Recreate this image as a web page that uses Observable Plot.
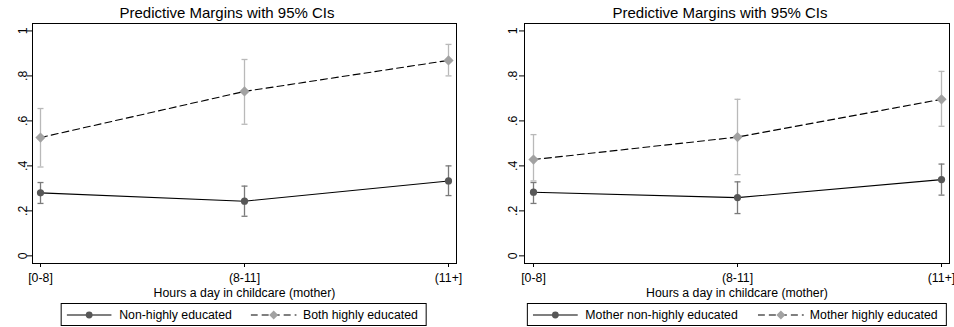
<!DOCTYPE html>
<html>
<head>
<meta charset="utf-8">
<script src="https://cdn.jsdelivr.net/npm/d3@7"></script>
<script src="https://cdn.jsdelivr.net/npm/@observablehq/plot@0.6"></script>
<style>
  body { margin: 0; background: #fff; font-family: "Liberation Sans", Arial, sans-serif; }
  #wrap { position: relative; width: 954px; height: 327px; overflow: hidden; }
  .panel { position: absolute; top: 0; width: 477px; height: 327px; }
  .title { position: absolute; top: 5px; width: 300px; text-align: center; font-size: 15px; line-height: 15px; color: #000; white-space: nowrap; }
  .plot { position: absolute; top: 0; left: 0; }
  .legend { position: absolute; top: 303px; height: 21px; border: 1px solid #000; background: #fff;
            display: flex; align-items: center; padding: 0 8px 0 5px; transform: translateX(-50%);
            font-size: 12.3px; white-space: nowrap; }
  .legend svg { display: block; }
</style>
</head>
<body>
<div id="wrap"></div>
<script>
// ---- data ----
const categories = ["[0-8]", "(8-11]", "(11+]"];
const yTickValues = [0, 0.2, 0.4, 0.6, 0.8, 1];
const yTickLabels = ["0", ".2", ".4", ".6", ".8", "1"];
const titleText = "Predictive Margins with 95% CIs";
const xTitle = "Hours a day in childcare (mother)";

// left panel
const leftLowLabel = "Non-highly educated";
const leftLow   = [0.280, 0.243, 0.333];
const leftLowLo = [0.233, 0.176, 0.268];
const leftLowHi = [0.326, 0.310, 0.400];
const leftHighLabel = "Both highly educated";
const leftHigh   = [0.526, 0.731, 0.869];
const leftHighLo = [0.395, 0.585, 0.800];
const leftHighHi = [0.655, 0.873, 0.940];

// right panel
const rightLowLabel = "Mother non-highly educated";
const rightLow   = [0.283, 0.259, 0.339];
const rightLowLo = [0.233, 0.188, 0.270];
const rightLowHi = [0.326, 0.329, 0.408];
const rightHighLabel = "Mother highly educated";
const rightHigh   = [0.428, 0.528, 0.696];
const rightHighLo = [0.333, 0.361, 0.576];
const rightHighHi = [0.539, 0.696, 0.820];

// ---- styles ----
const darkMarker = "#575757", darkCI = "#7a7a7a";
const lightMarker = "#a2a2a2", lightCI = "#b9b9b9";
const dash = "7,4";

const capSymbol = {
  draw(context, size) {
    const w = Math.sqrt(size / Math.PI);
    context.moveTo(-w, 0);
    context.lineTo(w, 0);
  }
};

function rows(v, lo, hi) {
  return categories.map((c, i) => ({cat: c, v: v[i], lo: lo[i], hi: hi[i]}));
}

function makePanel(cfg) {
  const panel = document.createElement("div");
  panel.className = "panel";
  panel.style.left = cfg.left + "px";

  const low = rows(cfg.low, cfg.lowLo, cfg.lowHi);
  const high = rows(cfg.high, cfg.highLo, cfg.highHi);

  const chart = Plot.plot({
    width: 477,
    height: 300,
    marginTop: 23,
    marginBottom: 37,
    marginLeft: cfg.marginLeft,
    marginRight: cfg.marginRight,
    style: {fontFamily: "'Liberation Sans', Arial, sans-serif", fontSize: "12.3px", color: "#000", background: "transparent", overflow: "visible"},
    x: {type: "point", domain: categories, padding: cfg.padding, label: null},
    y: {domain: [-0.034, 1.033], label: null},
    marks: [
      Plot.axisY({ticks: yTickValues, tickFormat: d => yTickLabels[yTickValues.indexOf(d)], tickSize: 5, tickPadding: cfg.yPad, tickRotate: -90, label: null, stroke: "#000"}),
      Plot.axisX({tickSize: 4, tickPadding: 5.5, label: xTitle, labelAnchor: "center", labelOffset: 33, stroke: "#000"}),
      // CIs
      Plot.ruleX(low, {x: "cat", y1: "lo", y2: "hi", stroke: darkCI, strokeWidth: 1.3}),
      Plot.dot(low, {x: "cat", y: "lo", symbol: capSymbol, r: 3, stroke: darkCI, strokeWidth: 1.3}),
      Plot.dot(low, {x: "cat", y: "hi", symbol: capSymbol, r: 3, stroke: darkCI, strokeWidth: 1.3}),
      Plot.ruleX(high, {x: "cat", y1: "lo", y2: "hi", stroke: lightCI, strokeWidth: 1.3}),
      Plot.dot(high, {x: "cat", y: "lo", symbol: capSymbol, r: 3, stroke: lightCI, strokeWidth: 1.3}),
      Plot.dot(high, {x: "cat", y: "hi", symbol: capSymbol, r: 3, stroke: lightCI, strokeWidth: 1.3}),
      // lines
      Plot.line(low, {x: "cat", y: "v", stroke: "#000", strokeWidth: 1.1}),
      Plot.line(high, {x: "cat", y: "v", stroke: "#000", strokeWidth: 1.1, strokeDasharray: dash}),
      // markers
      Plot.dot(low, {x: "cat", y: "v", r: 3.6, fill: darkMarker, stroke: "none"}),
      Plot.dot(high, {x: "cat", y: "v", symbol: "diamond2", r: 4.6, fill: lightMarker, stroke: "none"}),
      Plot.frame({stroke: "#000", strokeWidth: 1})
    ]
  });
  chart.classList.add("plot");
  panel.appendChild(chart);

  const title = document.createElement("div");
  title.className = "title";
  title.textContent = titleText;
  title.style.left = (cfg.titleCenter - 150) + "px";
  panel.appendChild(title);

  const legend = document.createElement("div");
  legend.className = "legend";
  legend.style.left = cfg.legendCenter + "px";
  legend.innerHTML =
    `<svg width="45" height="10"><line x1="0" y1="5" x2="45" y2="5" stroke="#000" stroke-width="1.1"/><circle cx="22.5" cy="5" r="3.4" fill="${darkMarker}"/></svg>` +
    `<span style="margin-left:8px">${cfg.lowLabel}</span>` +
    `<svg width="46" height="10" style="margin-left:${cfg.legendGap}px"><line x1="0" y1="5" x2="46" y2="5" stroke="#000" stroke-width="1.1" stroke-dasharray="${dash}"/><path d="M23,0.5L27.5,5L23,9.5L18.5,5Z" fill="${lightMarker}"/></svg>` +
    `<span style="margin-left:6px">${cfg.highLabel}</span>`;
  panel.appendChild(legend);
  return panel;
}

const wrap = document.getElementById("wrap");
wrap.appendChild(makePanel({
  left: 0, marginLeft: 32, marginRight: 21, padding: 0.037, yPad: 0.5,
  low: leftLow, lowLo: leftLowLo, lowHi: leftLowHi,
  high: leftHigh, highLo: leftHighLo, highHi: leftHighHi,
  lowLabel: leftLowLabel, highLabel: leftHighLabel,
  titleCenter: 227, legendCenter: 243.5, legendGap: 19
}));
wrap.appendChild(makePanel({
  left: 477, marginLeft: 47, marginRight: 5, padding: 0.039, yPad: 3,
  low: rightLow, lowLo: rightLowLo, lowHi: rightLowHi,
  high: rightHigh, highLo: rightHighLo, highHi: rightHighHi,
  lowLabel: rightLowLabel, highLabel: rightHighLabel,
  titleCenter: 243, legendCenter: 259.5, legendGap: 20
}));
</script>
</body>
</html>
